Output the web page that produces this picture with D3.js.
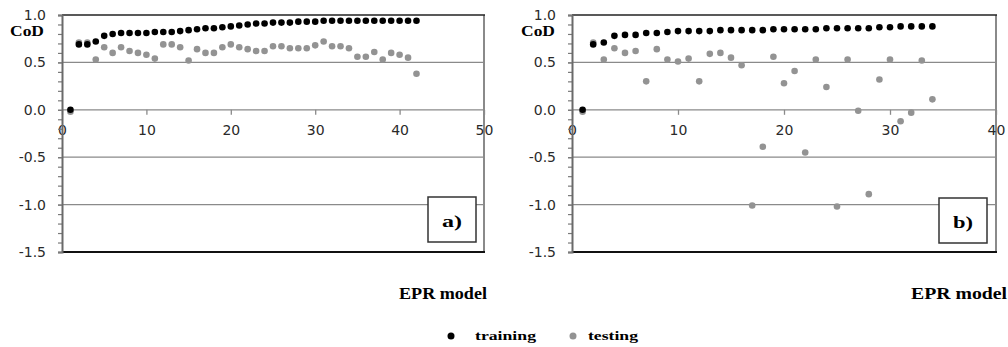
<!DOCTYPE html>
<html><head><meta charset="utf-8">
<script src="https://cdn.jsdelivr.net/npm/d3@7"></script>
<style>html,body{margin:0;padding:0;background:#fff;}svg{display:block;}</style>
</head><body>
<svg id="c" width="1008" height="347"></svg>
<script>
// ---- data ----
const modelsA = d3.range(1, 43);
const trainA = [0.00,0.69,0.69,0.72,0.78,0.80,0.81,0.81,0.81,0.81,0.82,0.82,0.82,0.83,0.84,0.85,0.86,0.86,0.87,0.88,0.89,0.90,0.91,0.91,0.92,0.92,0.92,0.93,0.93,0.93,0.94,0.94,0.94,0.94,0.94,0.94,0.94,0.94,0.94,0.94,0.94,0.94];
const testA = [-0.02,0.71,0.71,0.53,0.66,0.60,0.66,0.62,0.60,0.58,0.54,0.69,0.69,0.66,0.52,0.64,0.60,0.60,0.66,0.69,0.66,0.64,0.62,0.62,0.67,0.67,0.65,0.65,0.65,0.68,0.72,0.67,0.67,0.65,0.56,0.56,0.61,0.53,0.60,0.58,0.55,0.38];
const modelsB = d3.range(1, 35);
const trainB = [0.00,0.69,0.71,0.78,0.79,0.79,0.81,0.81,0.82,0.83,0.83,0.83,0.83,0.84,0.84,0.84,0.84,0.84,0.85,0.85,0.85,0.85,0.85,0.86,0.86,0.86,0.86,0.86,0.87,0.87,0.88,0.88,0.88,0.88];
const testB = [-0.02,0.71,0.53,0.65,0.60,0.62,0.30,0.64,0.53,0.51,0.54,0.30,0.59,0.60,0.55,0.47,-1.01,-0.39,0.56,0.28,0.41,-0.45,0.53,0.24,-1.02,0.53,-0.01,-0.89,0.32,0.53,-0.12,-0.03,0.52,0.11];
const xTicksA = [0,10,20,30,40,50];
const xTicksB = [0,10,20,30,40];
const yTicks = [1.0,0.5,0.0,-0.5,-1.0,-1.5];
const yGrid = [0.5,0.0,-0.5,-1.0];
const panelLabels = ["a)","b)"];
const seriesNames = ["training","testing"];
const seriesColors = ["#000000","#939393"];
const yTitle = "CoD";
const xTitle = "EPR model";

// ---- layout ----
const svg = d3.select("#c");
const plotTop = 15, plotBottom = 252;
const panels = [
  {x0:62, x1:484, xmax:50, ticks:xTicksA, models:modelsA, train:trainA, test:testA, label:panelLabels[0], cod:[10,44], epr:[399,487], box:[428,197,476,242]},
  {x0:572, x1:996, xmax:40, ticks:xTicksB, models:modelsB, train:trainB, test:testB, label:panelLabels[1], cod:[521,555], epr:[911,1007], box:[939,198,987,243]}
];
const tickFont = "'DejaVu Sans', Verdana, sans-serif";
const serif = "'Liberation Serif', 'Times New Roman', serif";

panels.forEach(p => {
  const x = d3.scaleLinear().domain([0, p.xmax]).range([p.x0, p.x1]);
  const y = d3.scaleLinear().domain([-1.5, 1.0]).range([plotBottom, plotTop]);
  const g = svg.append("g");

  // gridlines
  g.selectAll("line.grid").data(yGrid).join("line")
    .attr("x1", p.x0).attr("x2", p.x1)
    .attr("y1", d => y(d)).attr("y2", d => y(d))
    .attr("stroke", "#8a8a8a").attr("stroke-width", 1.3);
  // borders
  g.append("line").attr("x1", p.x1).attr("x2", p.x1).attr("y1", plotTop).attr("y2", plotBottom)
    .attr("stroke", "#8a8a8a").attr("stroke-width", 2);
  g.append("line").attr("x1", p.x0).attr("x2", p.x1+1).attr("y1", y(1.0)).attr("y2", y(1.0))
    .attr("stroke", "#222").attr("stroke-width", 1.5);
  g.append("line").attr("x1", p.x0).attr("x2", p.x1+1).attr("y1", y(-1.5)).attr("y2", y(-1.5))
    .attr("stroke", "#111").attr("stroke-width", 2);

  // x axis at y=0
  const xa = g.append("g").attr("transform", `translate(0,${y(0)})`)
    .call(d3.axisBottom(x).tickValues(p.ticks).tickSize(5).tickPadding(10).tickFormat(d3.format("d")));
  xa.select(".domain").remove();
  xa.selectAll(".tick line").attr("stroke", "#8a8a8a").attr("stroke-width", 1.3);
  xa.selectAll("text").attr("font-family", tickFont).attr("font-size", 14).attr("fill", "#2a2a2a");

  // y axis minor ticks
  const minor = d3.range(-15, 11).map(v => v / 10);
  const ym = g.append("g").attr("transform", `translate(${p.x0},0)`)
    .call(d3.axisLeft(y).tickValues(minor).tickSize(4).tickFormat(""));
  ym.select(".domain").remove();
  ym.selectAll(".tick line").attr("stroke", "#7a7a7a").attr("stroke-width", 1.2);
  const ya = g.append("g").attr("transform", `translate(${p.x0},0)`)
    .call(d3.axisLeft(y).tickValues(yTicks).tickSize(4).tickPadding(12).tickFormat(v => v.toFixed(1)));
  ya.select(".domain").attr("stroke", "#6a6a6a").attr("stroke-width", 2);
  ya.selectAll(".tick line").attr("stroke", "#7a7a7a").attr("stroke-width", 1.2);
  ya.selectAll("text").attr("font-family", tickFont).attr("font-size", 14).attr("fill", "#2a2a2a");

  // data points
  g.selectAll("circle.test").data(p.models).join("circle")
    .attr("class", "test")
    .attr("cx", d => x(d)).attr("cy", (d, i) => y(p.test[i])).attr("r", 3.3)
    .attr("fill", seriesColors[1]);
  g.selectAll("circle.train").data(p.models).join("circle")
    .attr("class", "train")
    .attr("cx", d => x(d)).attr("cy", (d, i) => y(p.train[i])).attr("r", 3.3)
    .attr("fill", seriesColors[0]);

  // panel label box
  const [bx0, by0, bx1, by1] = p.box;
  g.append("rect").attr("x", bx0).attr("y", by0).attr("width", bx1-bx0).attr("height", by1-by0)
    .attr("fill", "#fff").attr("stroke", "#333").attr("stroke-width", 1.5);
  g.append("text").attr("x", (bx0+bx1)/2 - 10).attr("y", (by0+by1)/2 + 7)
    .attr("font-family", serif).attr("font-weight", "bold").attr("font-size", 16)
    .attr("textLength", 20).attr("lengthAdjust", "spacingAndGlyphs")
    .text(p.label);

  // titles
  g.append("text").attr("x", p.cod[0]).attr("y", 36)
    .attr("font-family", serif).attr("font-weight", "bold").attr("font-size", 15)
    .attr("textLength", p.cod[1]-p.cod[0]).attr("lengthAdjust", "spacingAndGlyphs")
    .text(yTitle);
  g.append("text").attr("x", p.epr[0]).attr("y", 299)
    .attr("font-family", serif).attr("font-weight", "bold").attr("font-size", 17)
    .attr("textLength", p.epr[1]-p.epr[0]).attr("lengthAdjust", "spacingAndGlyphs")
    .text(xTitle);
});

// legend
const legend = [
  {name: seriesNames[0], color: seriesColors[0], cx: 451, tx: 475, tw: 61},
  {name: seriesNames[1], color: seriesColors[1], cx: 573, tx: 588, tw: 50}
];
const lg = svg.append("g");
lg.selectAll("circle").data(legend).join("circle")
  .attr("cx", d => d.cx).attr("cy", 336).attr("r", 3.5).attr("fill", d => d.color);
lg.selectAll("text").data(legend).join("text")
  .attr("x", d => d.tx).attr("y", 340)
  .attr("font-family", serif).attr("font-weight", "bold").attr("font-size", 13)
  .attr("textLength", d => d.tw).attr("lengthAdjust", "spacingAndGlyphs")
  .text(d => d.name);
</script>
</body></html>
